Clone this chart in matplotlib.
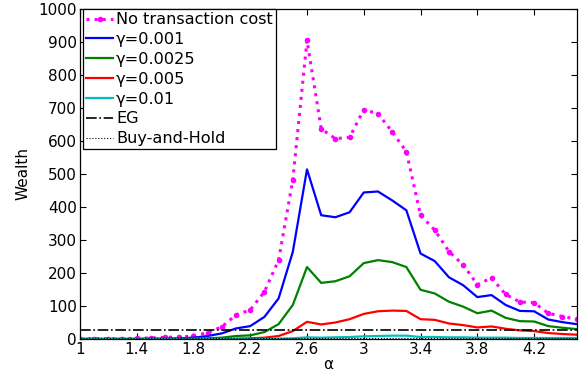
import matplotlib
matplotlib.use("Agg")
import matplotlib.pyplot as plt
import numpy as np

plt.rcParams['font.family'] = ['DejaVu Sans']

alpha = [1.0, 1.1, 1.2, 1.3, 1.4, 1.5, 1.6, 1.7, 1.8, 1.9, 2.0, 2.1, 2.2, 2.3, 2.4, 2.5,
         2.6, 2.7, 2.8, 2.9, 3.0, 3.1, 3.2, 3.3, 3.4, 3.5, 3.6, 3.7, 3.8, 3.9, 4.0, 4.1,
         4.2, 4.3, 4.4, 4.5]
no_cost = [0, 1, 1, 1, 2, 3, 5, 6, 9, 19, 37, 73, 88, 143, 239, 482,
           905, 637, 607, 611, 695, 683, 628, 568, 375, 330, 265, 225, 165, 185, 135, 112,
           110, 78, 68, 60]
g0010 = [0, 0, 0, 0, 0, 1, 1, 2, 4, 9, 17, 32, 39, 67, 123, 264,
         514, 375, 369, 384, 444, 447, 420, 390, 259, 236, 187, 163, 127, 133, 103, 85,
         84, 59, 51, 45]
g0025 = [0, 0, 0, 0, 0, 0, 0, 0, 1, 2, 4, 9, 11, 21, 45, 103,
         218, 170, 175, 190, 230, 239, 233, 218, 149, 138, 113, 98, 78, 86, 64, 54,
         53, 39, 34, 30]
g0050 = [0, 0, 0, 0, 0, 0, 0, 0, 0, 0, 1, 1, 2, 4, 9, 24,
         52, 44, 50, 60, 76, 84, 86, 85, 60, 58, 47, 42, 35, 38, 31, 26,
         24, 18, 15, 13]
g0100 = [0, 0, 0, 0, 0, 0, 0, 0, 0, 0, 0, 0, 0, 0, 1, 2,
         5, 4, 5, 6, 8, 9, 10, 10, 6, 6, 5, 5, 4, 4, 4, 3,
         3, 3, 3, 3]
eg = [28] * len(alpha)
bah = [1.5] * len(alpha)

fig = plt.figure(figsize=(5.79, 3.71), dpi=100)
ax = fig.add_axes([0.138, 0.0863, 0.858, 0.8894])

ax.plot(alpha, no_cost, ':', color=(1, 0, 1), lw=2.2, marker='.', ms=6, label='No transaction cost')
ax.plot(alpha, g0010, '-', color=(0, 0, 1), lw=1.6, label='γ=0.001')
ax.plot(alpha, g0025, '-', color=(0, 0.5, 0), lw=1.6, label='γ=0.0025')
ax.plot(alpha, g0050, '-', color=(1, 0, 0), lw=1.6, label='γ=0.005')
ax.plot(alpha, g0100, '-', color=(0, 0.75, 0.75), lw=1.6, label='γ=0.01')
ax.plot(alpha, eg, '-.', color='black', lw=1.2, label='EG')
ax.plot(alpha, bah, ':', color='black', lw=0.8, label='Buy-and-Hold')

ax.set_xlim(1, 4.5)
ax.set_ylim(0, 1000)
ax.set_xticks([1, 1.4, 1.8, 2.2, 2.6, 3, 3.4, 3.8, 4.2])
ax.set_xticklabels(['1', '1.4', '1.8', '2.2', '2.6', '3', '3.4', '3.8', '4.2'])
ax.set_yticks(np.arange(0, 1001, 100))
ax.tick_params(direction='in', top=True, right=True, labelsize=11, length=4, width=0.8, pad=2)
for s in ax.spines.values():
    s.set_linewidth(0.9)
ax.set_xlabel('α', fontsize=11, labelpad=0)
ax.set_ylabel('Wealth', fontsize=11, labelpad=6)

leg = ax.legend(loc='upper left', bbox_to_anchor=(0.006, 1.0), borderaxespad=0,
                fontsize=11.6, frameon=True, fancybox=False, edgecolor='black',
                framealpha=1, numpoints=1, handlelength=1.7, handletextpad=0.15,
                labelspacing=0.3, borderpad=0.2)
leg.get_frame().set_linewidth(0.9)

fig.savefig('out.png', dpi=100)
